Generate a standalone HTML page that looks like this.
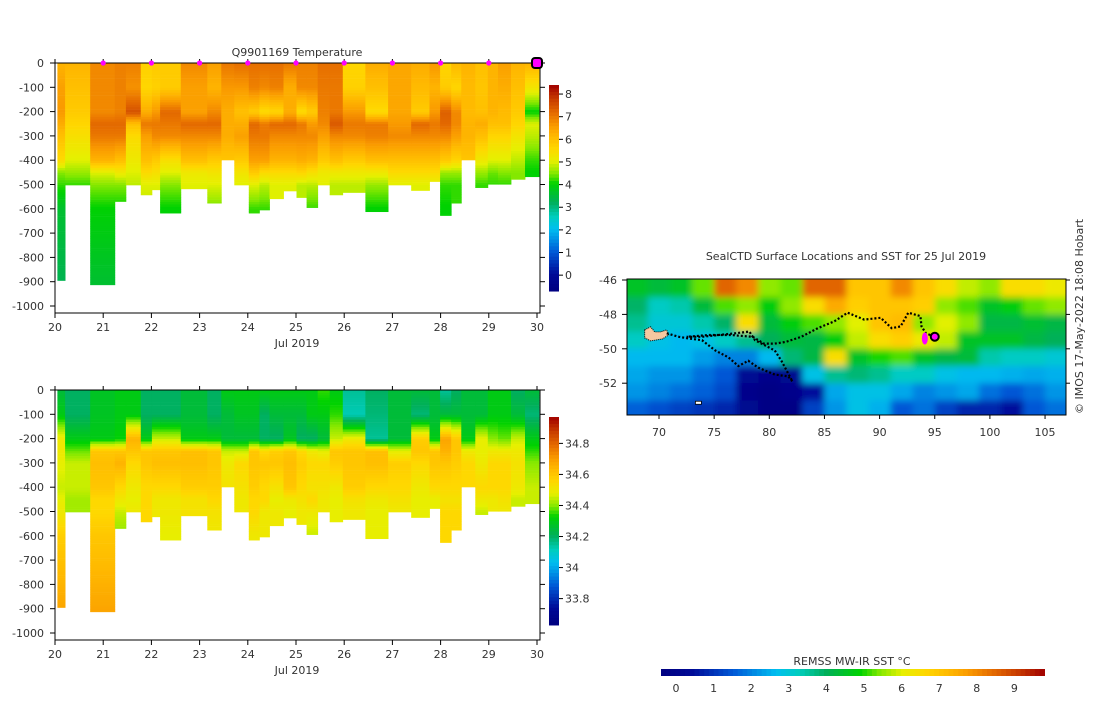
<!DOCTYPE html>
<html><head><meta charset="utf-8"><style>
body{margin:0;background:#fff;}
svg text{font-family:"DejaVu Sans","Liberation Sans",sans-serif;font-size:11px;fill:#333;}
</style></head><body>
<svg id="chart" width="1100" height="696" viewBox="0 0 1100 696" xmlns="http://www.w3.org/2000/svg">
<defs>
<clipPath id="mapclip"><rect x="627" y="279" width="439" height="136"/></clipPath>
<filter id="blur" x="-5%" y="-10%" width="110%" height="120%"><feGaussianBlur stdDeviation="3.5"/></filter>
</defs>
<g id="top"></g>
<g id="bot"></g>
<g id="map"></g>
</svg>
<script>
// ---- data ----
const colEdges=[20.05,20.21,20.73,21.24,21.47,21.78,22.01,22.18,22.61,23.16,23.45,23.72,24.02,24.24,24.45,24.74,25.01,25.22,25.45,25.70,25.97,26.44,26.91,27.39,27.77,27.99,28.22,28.43,28.72,28.98,29.19,29.46,29.75,30.04];
const maxDepth=[893,500,911,568,500,541,520,616,516,575,397,500,616,603,557,525,552,593,500,541,531,610,500,523,486,626,575,397,511,497,497,477,466];
const levels=[0,100,200,250,300,400,450,500,600,900];
const tempProfiles=[
[6.2,6.5,6.6,6.3,6.0,5.5,4.5,4.2,3.6,3.3],[6.2,6.0,5.8,5.6,5.4,5.0,4.6,4.2],[6.8,6.8,6.8,7.2,7.0,6.2,5.0,4.5,4.0,3.6],
[6.9,6.9,6.9,7.2,7.0,6.0,5.2,4.5,4.0],[6.9,6.7,7.5,6.0,5.5,5.2,5.0,4.8],[5.7,5.6,6.3,7.0,6.5,6.0,5.5,5.0,4.8],
[5.8,5.7,6.6,7.0,6.8,5.8,5.4,5.0,4.8],[5.8,5.8,7.2,7.0,6.8,5.4,5.0,4.5,4.0],[6.8,6.5,6.5,7.2,6.8,6.0,5.2,5.0],
[6.5,6.2,6.8,7.2,6.8,5.8,5.3,5.0,4.4],[7.0,6.6,6.3,6.3,6.3,5.9],[7.1,6.6,6.0,6.3,6.5,5.8,5.3,5.0],
[7.1,6.9,5.8,7.2,7.0,6.5,5.8,5.0,4.2],[7.1,6.8,5.5,7.0,7.0,6.5,5.5,4.8,4.2],[7.1,6.9,5.6,7.2,6.8,6.2,5.5,5.0],
[7.0,6.3,6.3,7.2,6.8,6.2,5.5,5.0],[6.9,6.8,5.5,7.0,6.8,6.3,5.6,4.8],[6.9,6.8,5.8,6.6,6.8,6.2,5.4,4.8,4.2],
[7.1,7.0,6.9,6.8,6.5,5.8,5.2,5.0],[7.1,7.0,7.0,7.4,6.8,6.0,5.2,4.8],[5.6,5.7,6.6,7.0,6.8,5.8,5.2,4.8],
[6.3,6.0,5.5,7.0,6.9,6.0,5.2,4.6,4.0],[6.4,6.4,6.4,6.6,6.8,6.0,5.5,5.0],[6.3,6.1,5.8,7.2,6.8,6.0,5.5,5.0],
[6.6,6.2,6.6,7.0,6.8,6.0,5.5,5.0],[5.6,5.8,7.3,7.2,6.8,5.8,4.6,4.2,4.0],[6.1,5.6,6.8,6.8,6.5,5.6,4.6,4.2],
[6.2,6.1,6.1,6.2,6.2,5.9],[6.0,5.9,6.0,6.3,6.0,5.2,4.6,4.2],[6.2,6.2,6.2,6.0,5.6,5.0,4.4,4.2],
[6.5,6.3,6.1,6.0,5.6,5.0,4.5,4.2],[6.2,6.0,5.8,5.6,5.3,4.8,4.5],[6.2,5.3,4.0,5.0,4.8,4.2,4.0]];
const salProfiles=[
[34.25,34.3,34.5,34.5,34.48,34.45,34.48,34.5,34.58,34.68],[34.2,34.2,34.3,34.38,34.45,34.45,34.42,34.42],[34.28,34.28,34.3,34.6,34.62,34.6,34.55,34.55,34.6,34.68],
[34.3,34.3,34.32,34.6,34.65,34.55,34.5,34.45,34.4],[34.3,34.3,34.65,34.6,34.55,34.5,34.48,34.5],[34.2,34.2,34.3,34.6,34.6,34.55,34.55,34.55,34.55],
[34.2,34.2,34.45,34.6,34.62,34.55,34.5,34.5,34.48],[34.2,34.2,34.45,34.6,34.62,34.55,34.5,34.5,34.48],[34.25,34.25,34.3,34.62,34.62,34.58,34.52,34.52],
[34.2,34.2,34.3,34.6,34.6,34.58,34.55,34.52,34.5],[34.3,34.25,34.25,34.45,34.5,34.52],[34.3,34.28,34.25,34.45,34.55,34.52,34.5,34.5],
[34.3,34.28,34.25,34.6,34.6,34.58,34.55,34.55,34.5],[34.3,34.2,34.2,34.55,34.6,34.55,34.55,34.5,34.5],[34.3,34.25,34.2,34.58,34.6,34.52,34.48,34.5],
[34.3,34.25,34.28,34.6,34.62,34.6,34.5,34.48],[34.3,34.25,34.2,34.55,34.58,34.55,34.52,34.5],[34.3,34.3,34.2,34.5,34.55,34.52,34.55,34.5,34.45],
[34.35,34.3,34.25,34.48,34.55,34.52,34.5,34.5],[34.3,34.35,34.45,34.6,34.58,34.5,34.48,34.48],[34.15,34.12,34.5,34.6,34.6,34.58,34.52,34.5],
[34.2,34.18,34.15,34.62,34.62,34.55,34.5,34.48,34.48],[34.25,34.25,34.25,34.48,34.58,34.55,34.52,34.5],[34.25,34.18,34.58,34.6,34.55,34.5,34.48,34.48],
[34.25,34.25,34.3,34.6,34.6,34.55,34.48,34.48],[34.15,34.25,34.68,34.65,34.6,34.55,34.52,34.55,34.55],[34.2,34.25,34.6,34.6,34.58,34.55,34.52,34.55],
[34.25,34.25,34.3,34.5,34.55,34.55],[34.25,34.25,34.48,34.48,34.5,34.55,34.5,34.45],[34.3,34.3,34.4,34.5,34.55,34.55,34.5,34.5],
[34.3,34.3,34.38,34.5,34.55,34.55,34.52,34.5],[34.2,34.25,34.45,34.5,34.52,34.5,34.45],[34.25,34.18,34.3,34.35,34.4,34.45,34.45]];
const dayTicks=[20,21,22,23,24,25,26,27,28,29,30];
const depthTicks=[0,-100,-200,-300,-400,-500,-600,-700,-800,-900,-1000];
const markerDays=[21,22,23,24,25,26,27,28,29];
const tempCbTicks=[0,1,2,3,4,5,6,7,8];
const salCbTicks=[33.8,34,34.2,34.4,34.6,34.8];
const sstLons=[68,70,72,74,76,78,80,82,84,86,88,90,92,94,96,98,100,102,104,106];
const sstLats=[-46.5,-47.5,-48.5,-49.5,-50.5,-51.5,-52.5,-53.5];
const sstGrid=[
[4.5,4.3,4.5,5.3,8.5,8,5.5,5.3,8.5,8.5,7,7,8,7,6.5,5.8,5.5,6.5,6.5,6.2],
[3.9,3.2,3.4,4.3,5.2,5.5,4.8,5.5,6.5,7.5,6.8,7,7,6.8,5.5,5.2,4.5,4.8,5.3,5.5],
[3.6,3.0,3.0,3.4,3.9,6.5,4.3,4.8,5.2,5.5,6,7,7.2,5.5,6,5.5,4.2,4.2,4.4,4.2],
[3.2,2.8,2.6,2.8,3.2,3.6,4.0,4.3,4.2,4.8,5.8,6.5,6.8,6.2,5.8,4.5,4.5,4.5,4.2,4.0],
[2.6,2.6,2.6,2.3,2.0,2.0,2.6,3.8,4.2,6.5,4.5,5.0,5.2,4.5,4.2,4.3,3.4,3.2,3.2,3.0],
[2.4,2.2,2.2,1.8,1.5,0.3,0.0,0.2,2.8,3.6,3.8,3.6,3.2,3.2,2.8,2.6,2.6,2.5,2.4,2.5],
[2.2,2.0,1.8,1.6,1.3,0.0,-0.2,0.0,0.5,2.4,2.8,2.8,2.4,2.0,2.2,2.4,1.8,1.5,1.8,2.2],
[1.6,1.4,1.2,1.0,0.8,0.2,-0.2,-0.2,1.2,2.2,2.8,2.5,1.5,1.8,1.2,0.8,0.8,0.5,1.5,1.8]];
const trackLon=[70.7,71.8,72.7,73.9,75.1,76.3,77.2,78.1,79.0,80.5,81.7,82.1,81.1,80.5,79.3,78.7,78.2,76.9,75.4,73.9,72.5,74.5,76.5,78.5,79.5,80.5,81.5,82.9,84.4,85.9,87.1,88.6,90.1,91.1,91.9,92.6,93.7,93.8,94.2,95.0];
const trackLat=[-49.1,-49.3,-49.4,-49.5,-50.1,-50.5,-51.0,-50.7,-51.1,-51.5,-51.6,-51.9,-50.7,-50.1,-49.7,-49.5,-49.0,-49.1,-49.2,-49.3,-49.3,-49.2,-49.2,-49.3,-49.7,-49.7,-49.6,-49.3,-48.8,-48.4,-47.9,-48.3,-48.2,-48.8,-48.7,-47.9,-48.1,-48.7,-49.1,-49.3];
const mapLonTicks=[70,75,80,85,90,95,100,105];
const mapLatTicks=[-46,-48,-50,-52];
const sstCbTicks=[0,1,2,3,4,5,6,7,8,9];

// ---- colormap ----
const stops=[[0,[0,0,128]],[0.08,[0,10,150]],[0.19,[0,90,215]],[0.3,[0,190,240]],[0.36,[0,205,190]],[0.43,[0,175,90]],[0.52,[0,210,0]],[0.57,[130,232,0]],[0.63,[230,240,0]],[0.69,[255,215,0]],[0.75,[255,185,0]],[0.8,[250,155,0]],[0.86,[230,110,0]],[0.93,[200,60,0]],[1,[160,0,0]]];
function cmap(t){t=Math.max(0,Math.min(1,t));for(let i=1;i<stops.length;i++){if(t<=stops[i][0]){const a=stops[i-1],b=stops[i];const f=(t-a[0])/(b[0]-a[0]);const c=a[1].map((v,k)=>Math.round(v+(b[1][k]-v)*f));return `rgb(${c[0]},${c[1]},${c[2]})`;}}return 'rgb(160,0,0)';}
const NS='http://www.w3.org/2000/svg';
function el(tag,attrs,parent,txt){const e=document.createElementNS(NS,tag);for(const k in attrs)e.setAttribute(k,attrs[k]);if(txt!==undefined)e.textContent=txt;parent.appendChild(e);return e;}
function profVal(p,z){let n=p.length;for(let i=1;i<n;i++){if(z<=levels[i]){const f=(z-levels[i-1])/(levels[i]-levels[i-1]);return p[i-1]+(p[i]-p[i-1])*f;}}return p[n-1];}

function section(g,y0,profiles,vmin,vmax,cbTop,cbBot,cbTicks,cbFmt,title,markers){
  const xS=d=>55+(d-20)*48.2;const yS=z=>y0+z*0.243;
  for(let c=0;c<maxDepth.length;c++){
    const x1=xS(colEdges[c]),x2=xS(colEdges[c+1]);
    for(let z=0;z<maxDepth[c];z+=10){
      const v=profVal(profiles[c],z+5);
      const r=el('rect',{x:x1.toFixed(1),y:yS(z+2).toFixed(1),width:(x2-x1+0.4).toFixed(1),height:(Math.min(10,maxDepth[c]-z)*0.243+0.3).toFixed(2),fill:cmap((v-vmin)/(vmax-vmin))},g);
      
      
    }
  }
  el('rect',{x:55,y:y0,width:485,height:250,fill:'none',stroke:'#000','stroke-width':1,},g);
  dayTicks.forEach(d=>{const x=xS(d);
    el('line',{x1:x,x2:x,y1:y0+250,y2:y0+255,stroke:'#000'},g);
    el('line',{x1:x,x2:x,y1:y0,y2:y0-4,stroke:'#000'},g);
    const t=el('text',{x:x,y:y0+268,'text-anchor':'middle'},g,String(d));
    });
  depthTicks.forEach(v=>{const y=yS(-v);
    el('line',{x1:50,x2:55,y1:y,y2:y,stroke:'#000'},g);
    el('line',{x1:540,x2:545,y1:y,y2:y,stroke:'#000'},g);
    const t=el('text',{x:44,y:y+4,'text-anchor':'end'},g,String(v));
    });
  el('text',{x:297,y:y0+284,'text-anchor':'middle',},g,'Jul 2019');
  if(title) el('text',{x:297,y:y0-7,'text-anchor':'middle','font-size':'12',},g,title);
  if(markers){markerDays.forEach(d=>{const m=el('circle',{cx:xS(d),cy:y0,r:2.6,fill:'#ff00ff'},g);});
    el('rect',{x:xS(30)-5,y:y0-5,width:10,height:10,rx:3,fill:'#ff00ff',stroke:'#000','stroke-width':2,},g);}
  const cb=el('g',{},g);
  const n=60;for(let i=0;i<n;i++){const y=cbTop+(cbBot-cbTop)*i/n;const v=vmax-(vmax-vmin)*(i+0.5)/n;el('rect',{x:549,y:y.toFixed(1),width:10,height:((cbBot-cbTop)/n+0.5).toFixed(2),fill:cmap((v-vmin)/(vmax-vmin))},cb);}
  cbTicks.forEach(v=>{const y=cbTop+(vmax-v)/(vmax-vmin)*(cbBot-cbTop);el('line',{x1:559,x2:563,y1:y,y2:y,stroke:'#000'},cb);
    const t=el('text',{x:565,y:y+4},cb,cbFmt(v));});
}
section(document.getElementById('top'),63,tempProfiles,-0.7,8.4,85,291,tempCbTicks,v=>String(v),'Q9901169  Temperature',true);
section(document.getElementById('bot'),390,salProfiles,33.63,34.97,417,625,salCbTicks,v=>String(+v.toFixed(1)),null,false);

// ---- map ----
const mg=document.getElementById('map');
const lonX=l=>659+(l-70)*11.03;const latY=a=>280+(-46-a)*17.2;
el('text',{x:846,y:260,'text-anchor':'middle',},mg,'SealCTD Surface Locations and SST for 25 Jul 2019');
const clipG=el('g',{'clip-path':'url(#mapclip)'},mg);
const hg=el('g',{filter:'url(#blur)'},clipG);
for(let r=0;r<sstLats.length;r++)for(let c=0;c<sstLons.length;c++){
  let x1=lonX(sstLons[c]-1),x2=lonX(sstLons[c]+1),y1=latY(sstLats[r]+0.5),y2=latY(sstLats[r]-0.5);
  if(c==0)x1-=20;if(c==sstLons.length-1)x2+=20;if(r==0)y1-=20;if(r==sstLats.length-1)y2+=20;
  const cell=el('rect',{x:x1.toFixed(1),y:y1.toFixed(1),width:(x2-x1+0.5).toFixed(1),height:(y2-y1+0.5).toFixed(1),fill:cmap((sstGrid[r][c]+0.4)/10.2)},hg);
  
  
}
el('path',{d:`M${lonX(68.7)},${latY(-48.9)} l6,-3 l4,5 l6,0 l6,-2 l2,5 l-6,4 l-12,2 l-6,-3 z`,fill:'#f5c8a0',stroke:'#000','stroke-width':1,'stroke-dasharray':'1,1',},clipG);
el('rect',{x:lonX(73.3),y:latY(-53.05),width:6,height:3,fill:'#fff',stroke:'#000','stroke-width':0.8,},clipG);
let pts=trackLon.map((l,i)=>lonX(l).toFixed(1)+','+latY(trackLat[i]).toFixed(1)).join(' ');
el('polyline',{points:pts,fill:'none',stroke:'#000','stroke-width':2.2,'stroke-dasharray':'2,2',},clipG);
el('ellipse',{cx:lonX(94.1),cy:latY(-49.4),rx:3,ry:6,fill:'#ff00ff',},clipG);
el('circle',{cx:lonX(95),cy:latY(-49.3),r:4,fill:'#ff00ff',stroke:'#000','stroke-width':2,},clipG);
el('rect',{x:627,y:279,width:439,height:136,fill:'none',stroke:'#000',},mg);
mapLonTicks.forEach(l=>{const x=lonX(l);el('line',{x1:x,x2:x,y1:415,y2:419,stroke:'#000'},mg);
  const t=el('text',{x:x,y:436,'text-anchor':'middle'},mg,String(l));});
mapLatTicks.forEach(a=>{const y=latY(a);el('line',{x1:622,x2:627,y1:y,y2:y,stroke:'#000'},mg);el('line',{x1:1066,x2:1070,y1:y,y2:y,stroke:'#000'},mg);
  const t=el('text',{x:617,y:y+4,'text-anchor':'end'},mg,String(a));});
el('text',{transform:'translate(1083,414) rotate(-90)','font-size':'10',},mg,'© IMOS 17-May-2022 18:08 Hobart');
const scb=el('g',{},mg);
el('text',{x:852,y:665,'text-anchor':'middle',},scb,'REMSS MW-IR SST °C');
const cbx=v=>676+v*37.6;
for(let i=0;i<80;i++){const v=-0.4+10.2*i/80;el('rect',{x:cbx(v).toFixed(1),y:669,width:(10.2/80*37.6+0.5).toFixed(2),height:7,fill:cmap((v+0.4+0.064)/10.2)},scb);}
sstCbTicks.forEach(v=>{const t=el('text',{x:cbx(v),y:692,'text-anchor':'middle'},scb,String(v));});
</script>
</body></html>
